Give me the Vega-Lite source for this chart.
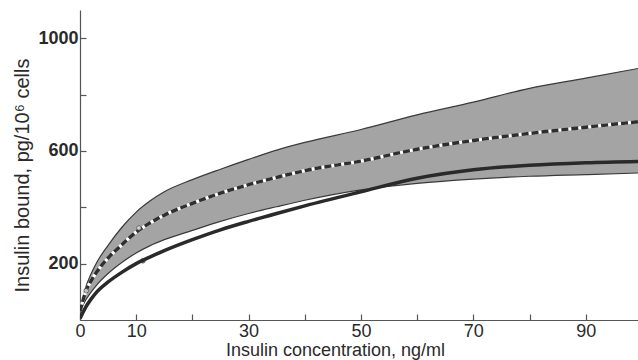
{
  "$schema": "https://vega.github.io/schema/vega-lite/v6.json",
  "width": 558,
  "height": 310,
  "autosize": {"type": "none"},
  "padding": {"left": 80, "top": 10, "right": 0, "bottom": 40},
  "background": "white",
  "config": {
    "view": {"stroke": null},
    "axis": {"grid": false, "domainColor": "#555", "tickColor": "#555", "labelColor": "#2a2a2a", "titleColor": "#2a2a2a", "labelFont": "Liberation Sans", "titleFont": "Liberation Sans"}
  },
  "datasets": {
    "curves": [
      {"x": 0, "upper": 30, "dashed": 30, "lower": 30, "solid": 5},
      {"x": 1, "upper": 115, "dashed": 100, "lower": 70, "solid": 45},
      {"x": 2, "upper": 165, "dashed": 140, "lower": 100, "solid": 75},
      {"x": 3, "upper": 205, "dashed": 171, "lower": 125, "solid": 100},
      {"x": 5, "upper": 265, "dashed": 220, "lower": 165, "solid": 135},
      {"x": 7.5, "upper": 330, "dashed": 268, "lower": 205, "solid": 170},
      {"x": 10, "upper": 383, "dashed": 312, "lower": 238, "solid": 200},
      {"x": 12.5, "upper": 423, "dashed": 345, "lower": 264, "solid": 224},
      {"x": 15, "upper": 455, "dashed": 372, "lower": 285, "solid": 246},
      {"x": 20, "upper": 498, "dashed": 414, "lower": 318, "solid": 285},
      {"x": 25, "upper": 535, "dashed": 450, "lower": 350, "solid": 320},
      {"x": 30, "upper": 570, "dashed": 480, "lower": 378, "solid": 350},
      {"x": 35, "upper": 603, "dashed": 506, "lower": 402, "solid": 378},
      {"x": 40, "upper": 630, "dashed": 530, "lower": 425, "solid": 405},
      {"x": 50, "upper": 676, "dashed": 564, "lower": 462, "solid": 455},
      {"x": 60, "upper": 728, "dashed": 606, "lower": 485, "solid": 503},
      {"x": 70, "upper": 773, "dashed": 637, "lower": 500, "solid": 533},
      {"x": 80, "upper": 822, "dashed": 662, "lower": 510, "solid": 549},
      {"x": 90, "upper": 858, "dashed": 684, "lower": 516, "solid": 558},
      {"x": 100, "upper": 895, "dashed": 705, "lower": 522, "solid": 563}
    ],
    "markers": [
      {"x": 1.1, "y": 104, "kind": "open"},
      {"x": 10.5, "y": 326, "kind": "open"},
      {"x": 11.2, "y": 210, "kind": "filled"}
    ]
  },
  "layer": [
    {
      "data": {"name": "curves"},
      "mark": {"type": "area", "color": "#a4a4a4", "interpolate": "monotone", "clip": true},
      "encoding": {
        "x": {"field": "x", "type": "quantitative", "scale": {"domain": [0, 99.3], "nice": false},
          "axis": {"values": [0, 10, 20, 30, 40, 50, 60, 70, 80, 90], "labelExpr": "indexof([20,40,60,80], datum.value) >= 0 ? '' : datum.label", "tickSize": -6, "labelPadding": 8, "labelFontSize": 18, "labelFontWeight": "normal", "title": "Insulin concentration, ng/ml", "titleFontSize": 18, "titleFontWeight": "normal", "titleX": 255, "titleY": 21, "titleBaseline": "top", "domainWidth": 1.2, "tickWidth": 1.2, "labelFlush": false}},
        "y": {"field": "upper", "type": "quantitative", "scale": {"domain": [0, 1100], "nice": false},
          "axis": {"values": [200, 400, 600, 800, 1000], "format": "d", "labelExpr": "datum.value == 400 || datum.value == 800 ? '' : datum.label", "tickSize": -6, "labelPadding": 8, "labelFontSize": 18, "labelFontWeight": "bold", "title": "Insulin bound, pg/10⁶ cells", "titleFontSize": 20, "titleFontWeight": "normal", "titleX": -58, "titleY": 165, "titleBaseline": "middle", "titleAngle": -90, "domainWidth": 1.2, "tickWidth": 1.2}},
        "y2": {"field": "lower"}
      }
    },
    {
      "data": {"name": "curves"},
      "mark": {"type": "line", "color": "#3a3a3a", "strokeWidth": 1.2, "interpolate": "monotone", "clip": true},
      "encoding": {"x": {"field": "x", "type": "quantitative"}, "y": {"field": "upper", "type": "quantitative"}}
    },
    {
      "data": {"name": "curves"},
      "mark": {"type": "line", "color": "#3a3a3a", "strokeWidth": 1.2, "interpolate": "monotone", "clip": true},
      "encoding": {"x": {"field": "x", "type": "quantitative"}, "y": {"field": "lower", "type": "quantitative"}}
    },
    {
      "data": {"name": "curves"},
      "mark": {"type": "line", "color": "#2a2a2a", "strokeWidth": 3.5, "interpolate": "monotone", "clip": true},
      "encoding": {"x": {"field": "x", "type": "quantitative"}, "y": {"field": "solid", "type": "quantitative"}}
    },
    {
      "data": {"name": "curves"},
      "mark": {"type": "line", "color": "#ffffff", "strokeWidth": 3.2, "interpolate": "monotone", "clip": true},
      "encoding": {"x": {"field": "x", "type": "quantitative"}, "y": {"field": "dashed", "type": "quantitative"}}
    },
    {
      "data": {"name": "curves"},
      "mark": {"type": "line", "color": "#2f2f2f", "strokeWidth": 3.4, "strokeDash": [7, 3], "interpolate": "monotone", "clip": true},
      "encoding": {"x": {"field": "x", "type": "quantitative"}, "y": {"field": "dashed", "type": "quantitative"}}
    },
    {
      "data": {"name": "markers"},
      "mark": {"type": "point", "filled": true, "size": 22, "stroke": "#2f2f2f", "strokeWidth": 0.8},
      "encoding": {
        "x": {"field": "x", "type": "quantitative"},
        "y": {"field": "y", "type": "quantitative"},
        "fill": {"field": "kind", "type": "nominal", "scale": {"domain": ["open", "filled"], "range": ["#ffffff", "#2a2a2a"]}, "legend": null}
      }
    }
  ]
}
